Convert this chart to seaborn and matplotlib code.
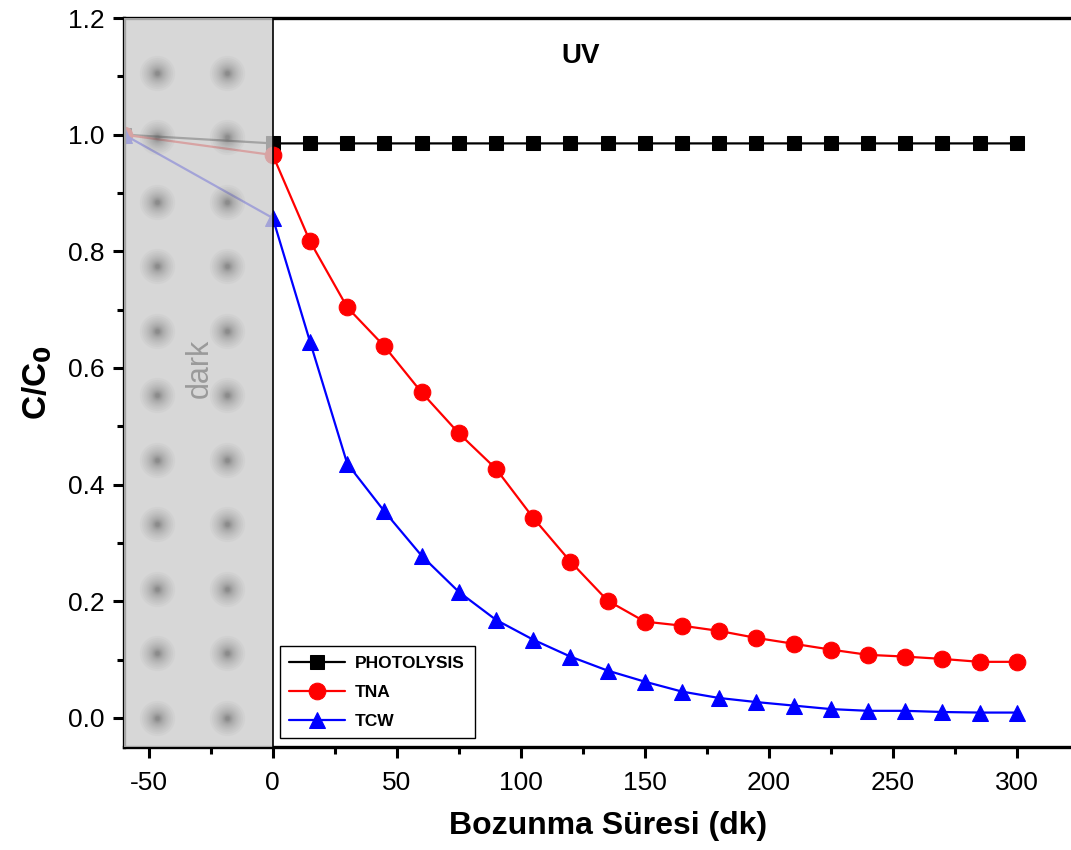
import numpy as np
import pandas as pd
import matplotlib
matplotlib.use("Agg")
import matplotlib.pyplot as plt
import seaborn as sns

# data
time_min = [-60, 0, 15, 30, 45, 60, 75, 90, 105, 120, 135, 150, 165, 180,
            195, 210, 225, 240, 255, 270, 285, 300]
photolysis = [1.0] + [0.985] * 21
tna = [1.0, 0.965, 0.817, 0.704, 0.637, 0.558, 0.488, 0.427, 0.343, 0.268,
       0.201, 0.165, 0.158, 0.149, 0.137, 0.127, 0.117, 0.108, 0.105, 0.101,
       0.096, 0.096]
tcw = [1.0, 0.857, 0.645, 0.436, 0.354, 0.278, 0.216, 0.168, 0.134, 0.105,
       0.081, 0.062, 0.045, 0.034, 0.027, 0.021, 0.015, 0.012, 0.012, 0.010,
       0.009, 0.009]

series_names = ["PHOTOLYSIS", "TNA", "TCW"]
series_colors = ["black", "#ff0000", "#0000ff"]
series_markers = ["s", "o", "^"]
series_sizes = [10, 12, 12]

# decorative blurred dots in the dark region
dot_x = [-46.8, -18.5]
dot_y = [i * 0.1106 for i in range(11)]

sns.set_theme(style="ticks")
plt.rcParams["font.family"] = ["Liberation Sans", "DejaVu Sans"]
plt.rcParams["axes.unicode_minus"] = False
for key in ["text.color", "axes.labelcolor", "xtick.color", "ytick.color"]:
    plt.rcParams[key] = "black"

df = pd.DataFrame({"t": time_min * 3,
                   "c": photolysis + tna + tcw,
                   "series": sum([[n] * len(time_min) for n in series_names], [])})

fig = plt.figure(figsize=(10.71, 8.5), dpi=100)
ax = fig.add_axes([0.1158, 0.1212, 0.903, 0.8576])

for name, col, mk, ms in zip(series_names, series_colors, series_markers, series_sizes):
    sub = df[df["series"] == name]
    sns.lineplot(data=sub, x="t", y="c", ax=ax, color=col, marker=mk,
                 markersize=ms, markeredgecolor=col, linewidth=1.6,
                 label=name, zorder=2)

# dark period shading drawn over the lines
ax.axvspan(-60, 0, color="#cdcdcd", alpha=0.8, zorder=3, lw=0)
ax.axvline(0, color="black", lw=1.2, zorder=4)
gx, gy = np.meshgrid(dot_x, dot_y)
for s in np.geomspace(8, 650, 18):
    ax.scatter(gx.ravel(), gy.ravel(), s=s, color="#5a5a5a", alpha=0.045,
               lw=0, zorder=4)

ax.text(-29.4, 0.6, "dark", rotation=90, color="#9a9a9a", fontsize=22,
        ha="center", va="center", zorder=5)
ax.text(124, 1.135, "UV", fontsize=20, fontweight="bold", ha="center", va="center")

ax.set_xlim(-60, 330)
ax.set_ylim(-0.05, 1.2)
ax.set_xticks([-50, 0, 50, 100, 150, 200, 250, 300])
ax.set_xticks([-25, 25, 75, 125, 175, 225, 275, 325], minor=True)
ax.set_yticks([0.0, 0.2, 0.4, 0.6, 0.8, 1.0, 1.2])
ax.set_yticks([0.1, 0.3, 0.5, 0.7, 0.9, 1.1], minor=True)
ax.yaxis.set_major_formatter(matplotlib.ticker.FormatStrFormatter("%.1f"))
ax.tick_params(axis="both", which="major", labelsize=19, length=8, width=2.2,
               direction="out")
ax.tick_params(axis="x", which="major", pad=9)
ax.tick_params(axis="y", which="major", pad=6)
ax.tick_params(axis="both", which="minor", length=5, width=2.2, direction="out")
ax.tick_params(top=False, right=False, which="both")

for side in ["left", "bottom", "top"]:
    ax.spines[side].set_linewidth(2.4)
    ax.spines[side].set_color("black")
ax.spines["right"].set_visible(False)

ax.set_xlabel("Bozunma Süresi (dk)", fontsize=23, fontweight="bold", labelpad=12)
ax.set_ylabel("C/C$_\\mathbf{0}$", fontsize=24, fontweight="bold", labelpad=10)

leg = ax.legend(loc="lower left", bbox_to_anchor=(0.152, 0.0), frameon=True,
                fancybox=False, edgecolor="black", framealpha=1,
                prop={"weight": "bold", "size": 12.5}, handlelength=3.2,
                borderpad=0.55, labelspacing=0.8, handletextpad=0.6)
leg.get_frame().set_linewidth(1.0)
leg.set_zorder(6)

fig.savefig("out.png", dpi=100)
